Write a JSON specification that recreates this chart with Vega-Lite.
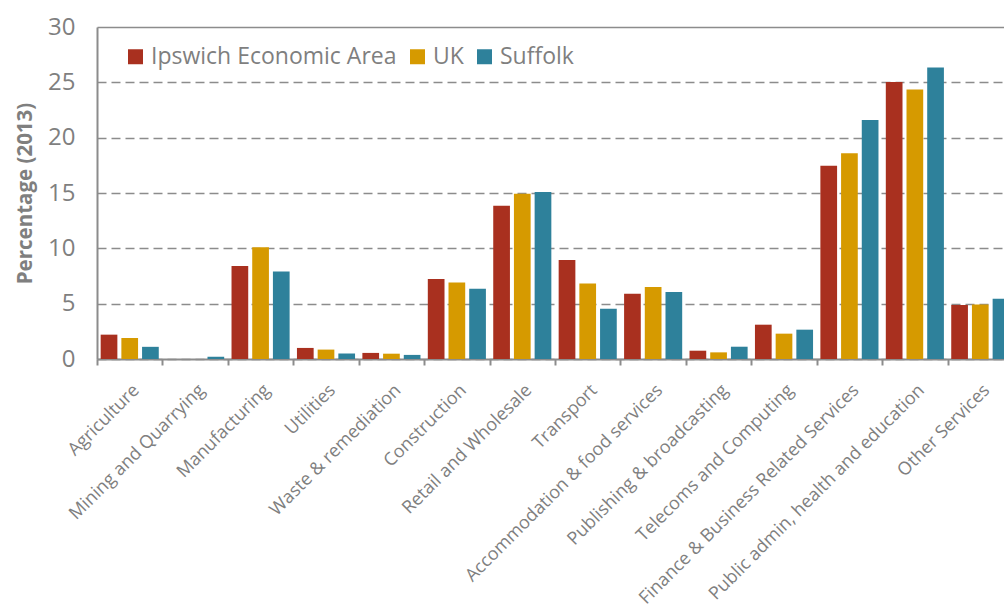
{
  "$schema": "https://vega.github.io/schema/vega-lite/v6.json",
  "autosize": {"type": "none"},
  "padding": {"left": 97, "top": 27, "right": 0, "bottom": 249},
  "width": 907,
  "height": 332,
  "background": "white",
  "config": {
    "view": {"stroke": null},
    "font": "Open Sans"
  },
  "data": {
    "values": [
      {"sector": "Agriculture", "area": "Ipswich Economic Area", "value": 2.2},
      {"sector": "Agriculture", "area": "UK", "value": 1.9},
      {"sector": "Agriculture", "area": "Suffolk", "value": 1.1},
      {"sector": "Mining and Quarrying", "area": "Ipswich Economic Area", "value": 0},
      {"sector": "Mining and Quarrying", "area": "UK", "value": 0},
      {"sector": "Mining and Quarrying", "area": "Suffolk", "value": 0.2},
      {"sector": "Manufacturing", "area": "Ipswich Economic Area", "value": 8.4},
      {"sector": "Manufacturing", "area": "UK", "value": 10.1},
      {"sector": "Manufacturing", "area": "Suffolk", "value": 7.9},
      {"sector": "Utilities", "area": "Ipswich Economic Area", "value": 1.0},
      {"sector": "Utilities", "area": "UK", "value": 0.85},
      {"sector": "Utilities", "area": "Suffolk", "value": 0.5},
      {"sector": "Waste & remediation", "area": "Ipswich Economic Area", "value": 0.55},
      {"sector": "Waste & remediation", "area": "UK", "value": 0.48},
      {"sector": "Waste & remediation", "area": "Suffolk", "value": 0.37},
      {"sector": "Construction", "area": "Ipswich Economic Area", "value": 7.23},
      {"sector": "Construction", "area": "UK", "value": 6.92},
      {"sector": "Construction", "area": "Suffolk", "value": 6.35},
      {"sector": "Retail and Wholesale", "area": "Ipswich Economic Area", "value": 13.85},
      {"sector": "Retail and Wholesale", "area": "UK", "value": 14.93},
      {"sector": "Retail and Wholesale", "area": "Suffolk", "value": 15.08},
      {"sector": "Transport", "area": "Ipswich Economic Area", "value": 8.94},
      {"sector": "Transport", "area": "UK", "value": 6.83},
      {"sector": "Transport", "area": "Suffolk", "value": 4.54},
      {"sector": "Accommodation & food services", "area": "Ipswich Economic Area", "value": 5.9},
      {"sector": "Accommodation & food services", "area": "UK", "value": 6.5},
      {"sector": "Accommodation & food services", "area": "Suffolk", "value": 6.05},
      {"sector": "Publishing & broadcasting", "area": "Ipswich Economic Area", "value": 0.75},
      {"sector": "Publishing & broadcasting", "area": "UK", "value": 0.6},
      {"sector": "Publishing & broadcasting", "area": "Suffolk", "value": 1.11},
      {"sector": "Telecoms and Computing", "area": "Ipswich Economic Area", "value": 3.1},
      {"sector": "Telecoms and Computing", "area": "UK", "value": 2.29},
      {"sector": "Telecoms and Computing", "area": "Suffolk", "value": 2.65},
      {"sector": "Finance & Business Related Services", "area": "Ipswich Economic Area", "value": 17.46},
      {"sector": "Finance & Business Related Services", "area": "UK", "value": 18.6},
      {"sector": "Finance & Business Related Services", "area": "Suffolk", "value": 21.59},
      {"sector": "Public admin, health and education", "area": "Ipswich Economic Area", "value": 25.02},
      {"sector": "Public admin, health and education", "area": "UK", "value": 24.35},
      {"sector": "Public admin, health and education", "area": "Suffolk", "value": 26.34},
      {"sector": "Other Services", "area": "Ipswich Economic Area", "value": 4.88},
      {"sector": "Other Services", "area": "UK", "value": 4.93},
      {"sector": "Other Services", "area": "Suffolk", "value": 5.45}
    ]
  },
  "mark": {"type": "bar", "clip": true},
  "encoding": {
    "x": {
      "field": "sector",
      "type": "nominal",
      "sort": null,
      "scale": {"range": [0, 916], "paddingInner": 0, "paddingOuter": 0},
      "axis": {
        "title": null,
        "labelAngle": -45,
        "labelFontSize": 18,
        "labelColor": "#7f7f7f",
        "labelLimit": 0,
        "labelOverlap": false,
        "labelBound": false,
        "labelPadding": 16,
        "tickBand": "extent",
        "tickColor": "#8c8c8c",
        "tickWidth": 2,
        "tickSize": 6,
        "domainColor": "#8c8c8c",
        "domainWidth": 2,
        "grid": false
      }
    },
    "xOffset": {
      "field": "area",
      "type": "nominal",
      "sort": ["Ipswich Economic Area", "UK", "Suffolk"],
      "scale": {"paddingInner": 0.193, "paddingOuter": 0.177}
    },
    "y": {
      "field": "value",
      "type": "quantitative",
      "scale": {"domain": [0, 30]},
      "axis": {
        "title": "Percentage (2013)",
        "titleFontSize": 20.5,
        "titleFontWeight": "bold",
        "titleColor": "#7f7f7f",
        "titlePadding": 12,
        "values": [0, 5, 10, 15, 20, 25, 30],
        "labelFontSize": 24,
        "labelColor": "#7f7f7f",
        "labelPadding": 22,
        "ticks": false,
        "domainColor": "#8c8c8c",
        "domainWidth": 2,
        "grid": true,
        "gridColor": "#8c8c8c",
        "gridWidth": 1.5,
        "gridDash": {"condition": {"test": "datum.value == 30", "value": []}, "value": [9, 5]}
      }
    },
    "color": {
      "field": "area",
      "type": "nominal",
      "sort": ["Ipswich Economic Area", "UK", "Suffolk"],
      "scale": {"domain": ["Ipswich Economic Area", "UK", "Suffolk"], "range": ["#a9301f", "#d69a00", "#2e819b"]},
      "legend": {
        "title": null,
        "orient": "none",
        "direction": "horizontal",
        "legendX": 27,
        "legendY": 18,
        "symbolType": "square",
        "symbolSize": 225,
        "symbolStrokeWidth": 0,
        "labelFontSize": 23,
        "labelColor": "#7f7f7f",
        "labelOffset": 4,
        "columnPadding": 9,
        "labelLimit": 0
      }
    }
  }
}
